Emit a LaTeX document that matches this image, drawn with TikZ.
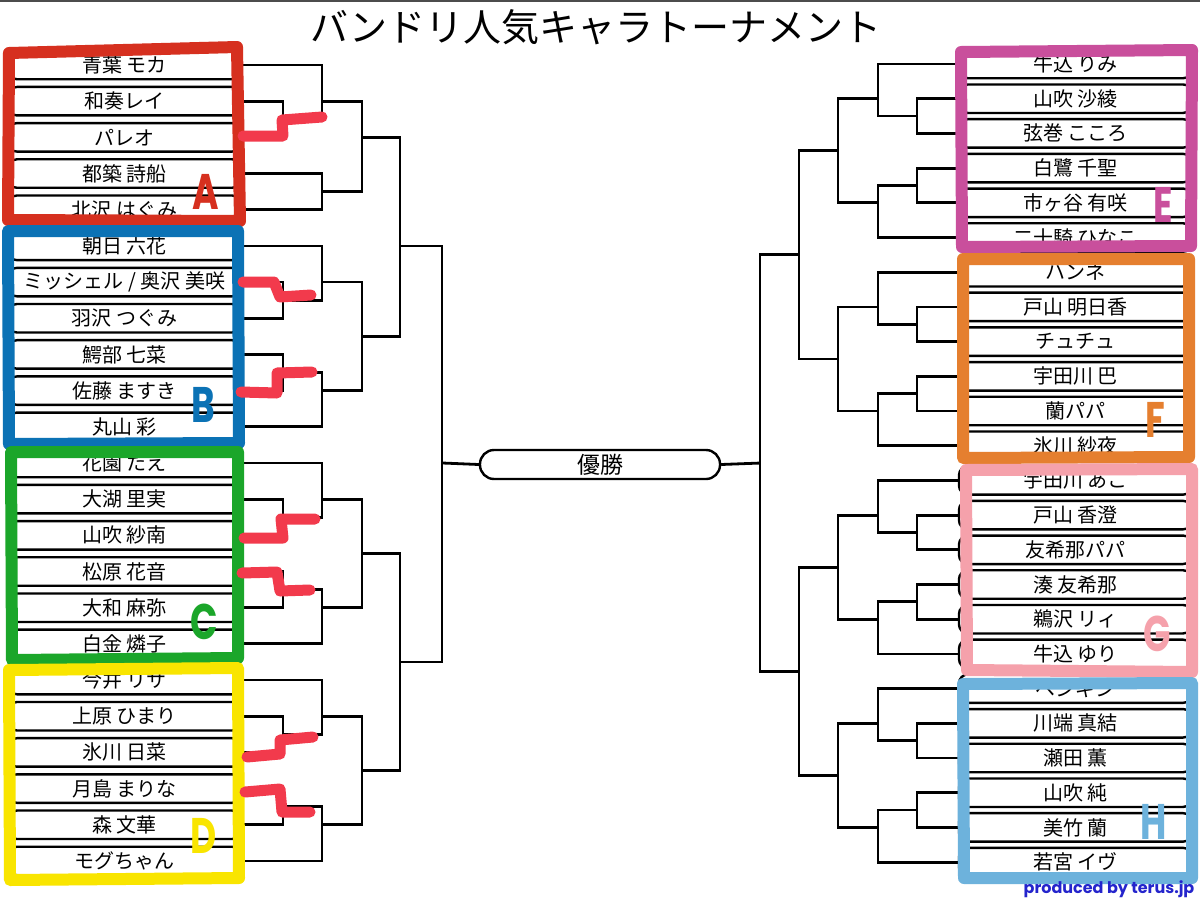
\documentclass[tikz,border=0pt]{standalone}
\usepackage{fontspec}
\usepackage{graphicx}
\setmainfont{Noto Sans CJK JP}
\newfontfamily\lat{Poppins}
\definecolor{colA}{HTML}{D6301F}
\definecolor{colB}{HTML}{0B72B5}
\definecolor{colC}{HTML}{1BA62A}
\definecolor{colD}{HTML}{F9E500}
\definecolor{colE}{HTML}{C94F9C}
\definecolor{colF}{HTML}{E57F2F}
\definecolor{colG}{HTML}{F5A1AB}
\definecolor{colH}{HTML}{6DB2DC}
\definecolor{sqred}{HTML}{F23A4C}
\definecolor{prodblue}{HTML}{2424CC}
\tikzset{
  namebox/.style={draw, line width=2.4pt, fill=white, rounded corners=9pt,
    minimum width=233pt, minimum height=28.5pt, inner sep=0pt,
    font=\fontsize{20}{20}\selectfont},
  bline/.style={line width=2.8pt},
  hl/.style={line width=12pt, line join=round, line cap=round, draw=#1},
  sq/.style={line width=11pt, line join=round, line cap=round, draw=sqred},
  letter/.style={font=\lat\bfseries\fontsize{50}{50}\selectfont, text=#1, inner sep=0pt},
}
\newcommand\brk[3]{\draw[bline] (#1) -| (#3) |- (#2);}
\newcommand\narrow[1]{\scalebox{0.72}[1]{#1}}
\begin{document}
\begin{tikzpicture}[x=1pt,y=-1pt]
\useasboundingbox (0,0) rectangle (1200,900);
\fill[white] (0,0) rectangle (1200,900);
\fill[black!70] (0,0) rectangle (1200,1.5);

% title
\node[font=\fontsize{38}{38}\selectfont] (title) at (596,27) {バンドリ人気キャラトーナメント};

% left names
\foreach \n [count=\i from 0] in {青葉 モカ, 和奏レイ, パレオ, 都築 詩船, 北沢 はぐみ,
  朝日 六花, ミッシェル / 奥沢 美咲, 羽沢 つぐみ, 鰐部 七菜, 佐藤 ますき, 丸山 彩,
  花園 たえ, 大湖 里実, 山吹 紗南, 松原 花音, 大和 麻弥, 白金 燐子,
  今井 リサ, 上原 ひまり, 氷川 日菜, 月島 まりな, 森 文華, モグちゃん}
  \node[namebox] (L\i) at (124.5, {65+36.18*\i}) {\n};

% right names
\foreach \n [count=\i from 0] in {牛込 りみ, 山吹 沙綾, 弦巻 こころ, 白鷺 千聖, 市ヶ谷 有咲, 二十騎 ひなこ,
  ハンネ, 戸山 明日香, チュチュ, 宇田川 巴, 蘭パパ, 氷川 紗夜,
  宇田川 あこ, 戸山 香澄, 友希那パパ, 湊 友希那, 鵜沢 リィ, 牛込 ゆり,
  ペンギン, 川端 真結, 瀬田 薫, 山吹 純, 美竹 蘭, 若宮 イヴ}
  \node[namebox] (R\i) at (1075.5, {64+34.7*\i}) {\n};

% winner
\node[draw, line width=2.4pt, rounded corners=14pt, minimum width=240pt, minimum height=29pt,
  inner sep=0pt, font=\fontsize{23}{23}\selectfont] (win) at (600,464.5) {優勝};

% left junctions
\foreach \nm/\xx/\k in {jA1/283/1.5, jA2/322/1, jA3/322/3.5, jA/362/2,
  jB1/283/6.5, jB2/322/6, jB3/283/8.5, jB4/322/9, jB/362/7.5, jAB/400/5,
  jC1/283/12.5, jC2/322/12, jC3/283/14.5, jC4/322/15, jC/362/13.5,
  jD1/283/18.5, jD2/322/18, jD3/283/20.5, jD4/322/21, jD/362/19.5,
  jCD/400/16.5, jL/442/11}
  \coordinate (\nm) at (\xx, {65+36.18*\k});

% right junctions
\foreach \nm/\xx/\k in {jE1/917/1.5, jE2/878/1, jE3/917/3.5, jE4/878/4, jE/838/2.5,
  jF1/917/7.5, jF2/878/7, jF3/917/9.5, jF4/878/10, jF/838/8.5,
  jG1/917/13.5, jG2/878/13, jG3/917/15.5, jG4/878/16, jG/838/14.5,
  jH1/917/19.5, jH2/878/19, jH3/917/21.5, jH4/878/22, jH/838/20.5,
  jEF/799/5.5, jGH/799/17.5, jR/760/11.5}
  \coordinate (\nm) at (\xx, {64+34.7*\k});

% left brackets
\brk{L1.east}{L2.east}{jA1}
\brk{L0.east}{jA1}{jA2}
\brk{L3.east}{L4.east}{jA3}
\brk{jA2}{jA3}{jA}
\brk{L6.east}{L7.east}{jB1}
\brk{L5.east}{jB1}{jB2}
\brk{L8.east}{L9.east}{jB3}
\brk{jB3}{L10.east}{jB4}
\brk{jB2}{jB4}{jB}
\brk{jA}{jB}{jAB}
\brk{L12.east}{L13.east}{jC1}
\brk{L11.east}{jC1}{jC2}
\brk{L14.east}{L15.east}{jC3}
\brk{jC3}{L16.east}{jC4}
\brk{jC2}{jC4}{jC}
\brk{L18.east}{L19.east}{jD1}
\brk{L17.east}{jD1}{jD2}
\brk{L20.east}{L21.east}{jD3}
\brk{jD3}{L22.east}{jD4}
\brk{jD2}{jD4}{jD}
\brk{jC}{jD}{jCD}
\brk{jAB}{jCD}{jL}
\draw[bline] (jL) -- (win.west);

% right brackets
\brk{R1.west}{R2.west}{jE1}
\brk{R0.west}{jE1}{jE2}
\brk{R3.west}{R4.west}{jE3}
\brk{jE3}{R5.west}{jE4}
\brk{jE2}{jE4}{jE}
\brk{R7.west}{R8.west}{jF1}
\brk{R6.west}{jF1}{jF2}
\brk{R9.west}{R10.west}{jF3}
\brk{jF3}{R11.west}{jF4}
\brk{jF2}{jF4}{jF}
\brk{jE}{jF}{jEF}
\brk{R13.west}{R14.west}{jG1}
\brk{R12.west}{jG1}{jG2}
\brk{R15.west}{R16.west}{jG3}
\brk{jG3}{R17.west}{jG4}
\brk{jG2}{jG4}{jG}
\brk{R19.west}{R20.west}{jH1}
\brk{R18.west}{jH1}{jH2}
\brk{R21.west}{R22.west}{jH3}
\brk{jH3}{R23.west}{jH4}
\brk{jH2}{jH4}{jH}
\brk{jG}{jH}{jGH}
\brk{jEF}{jGH}{jR}
\draw[bline] (jR) -- (win.east);

% highlighter frames
\draw[hl=colA] (9,53) -- (237,47) -- (240,221) -- (8,220) -- cycle;
\draw[hl=colB] (8,231) -- (238,231) -- (239,443) -- (9,444) -- cycle;
\draw[hl=colC] (11,452) -- (238,452) -- (238,658) -- (12,660) -- cycle;
\draw[hl=colD] (9,670) -- (238,668) -- (239,878) -- (10,880) -- cycle;
\draw[hl=colE] (961,52) -- (1192,50) -- (1191,246) -- (962,247) -- cycle;
\draw[hl=colF] (963,259) -- (1189,259) -- (1189,457) -- (963,458) -- cycle;
\draw[hl=colG] (966,470) -- (1192,469) -- (1192,672) -- (967,670) -- cycle;
\draw[hl=colH] (963,684) -- (1192,683) -- (1192,878) -- (964,878) -- cycle;

% red squiggles
\draw[sq] (243,136) -- (283,136) -- (282,120) -- (322,117);
\draw[sq] (243,282) -- (274,282) -- (280,297) -- (311,295);
\draw[sq] (241,392) -- (277,393) -- (277,373) -- (312,372);
\draw[sq] (244,538) -- (283,538) -- (281,519) -- (315,519);
\draw[sq] (242,573) -- (277,572) -- (280,591) -- (310,590);
\draw[sq] (247,757) -- (280,754) -- (280,740) -- (313,737);
\draw[sq] (245,792) -- (280,789) -- (282,812) -- (310,812);

% group letters
\node[letter=colA] (tA) at (206,192) {\narrow{A}};
\node[letter=colB] (tB) at (203,405) {\narrow{B}};
\node[letter=colC] (tC) at (204,622) {\narrow{C}};
\node[letter=colD] (tD) at (204,836) {\narrow{D}};
\node[letter=colE] (tE) at (1163,205) {\narrow{E}};
\node[letter=colF] (tF) at (1155,420) {\narrow{F}};
\node[letter=colG] (tG) at (1157,634) {\narrow{G}};
\node[letter=colH] (tH) at (1154,822) {\narrow{H}};

% credit
\node[font=\lat\bfseries\fontsize{16}{16}\selectfont, text=prodblue, inner sep=0pt] (cred) at (1109,889) {produced by terus.jp};
\end{tikzpicture}
\end{document}
